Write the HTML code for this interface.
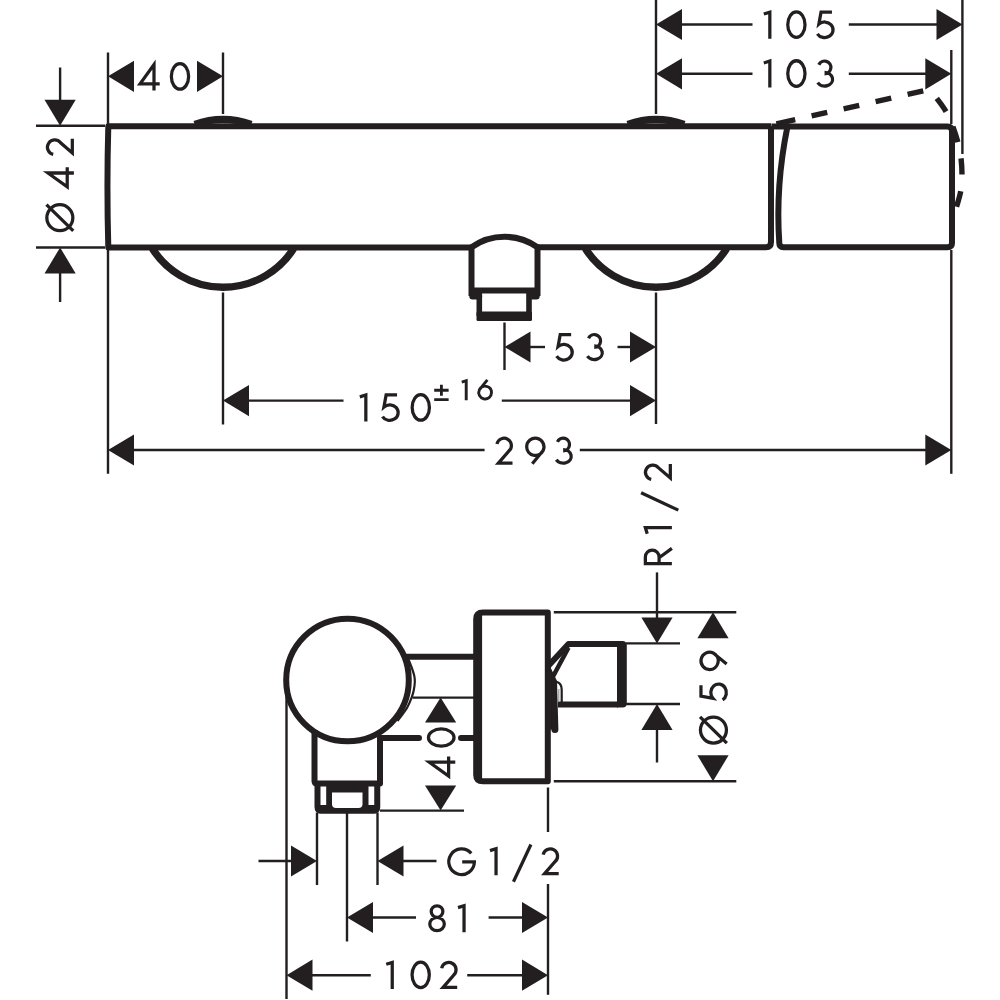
<!DOCTYPE html>
<html><head><meta charset="utf-8"><title>drawing</title>
<style>
html,body{margin:0;padding:0;background:#fff;font-family:"Liberation Sans",sans-serif;}
svg{display:block}
.t path{fill:none;stroke:#231f20;stroke-linecap:butt;stroke-linejoin:miter;stroke-miterlimit:6}
.n{fill:none;stroke:#231f20;stroke-width:2.4}
.k{fill:none;stroke:#231f20;stroke-width:6;stroke-linejoin:round}
.a{fill:#231f20;stroke:none}
</style></head><body>
<svg width="1000" height="1000" viewBox="0 0 1000 1000">
<rect width="1000" height="1000" fill="#fff"/>
<g class="t">
<path transform="translate(138.4,62.4) scale(1.04)" d="M15,27 L15,2 L1.6,20.6 L20.5,20.6" stroke-width="3.13"/>
<path transform="translate(169.8,62.4) scale(1.04)" d="M9.8,1.2 A8.3,12.3 0 1 1 9.8,25.8 A8.3,12.3 0 1 1 9.8,1.2 Z" stroke-width="3.13"/>
<path transform="translate(763.6,10.6) scale(1.04)" d="M0.2,3.3 L6,1.5 L6,27" stroke-width="3.13"/>
<path transform="translate(786.2,10.6) scale(1.04)" d="M9.8,1.2 A8.3,12.3 0 1 1 9.8,25.8 A8.3,12.3 0 1 1 9.8,1.2 Z" stroke-width="3.13"/>
<path transform="translate(815,10.6) scale(1.04)" d="M16.3,1.5 L5.8,1.5 L3.7,13 A8.1,7.5 0 1 1 2.3,22.3" stroke-width="3.13"/>
<path transform="translate(763.6,59.5) scale(1.04)" d="M0.2,3.3 L6,1.5 L6,27" stroke-width="3.13"/>
<path transform="translate(786.2,59.5) scale(1.04)" d="M9.8,1.2 A8.3,12.3 0 1 1 9.8,25.8 A8.3,12.3 0 1 1 9.8,1.2 Z" stroke-width="3.13"/>
<path transform="translate(815.6,59.5) scale(1.04)" d="M3.07,5.02 A6.1,6.1 0 1 1 8.6,13.7 M8.6,12.5 A7.7,6.5 0 1 1 1.97,22.25" stroke-width="3.13"/>
<path transform="translate(554.2,333) scale(1.04)" d="M16.3,1.5 L5.8,1.5 L3.7,13 A8.1,7.5 0 1 1 2.3,22.3" stroke-width="3.13"/>
<path transform="translate(585.3,333) scale(1.04)" d="M3.07,5.02 A6.1,6.1 0 1 1 8.6,13.7 M8.6,12.5 A7.7,6.5 0 1 1 1.97,22.25" stroke-width="3.13"/>
<path transform="translate(359.6,393.4) scale(1.04)" d="M0.2,3.3 L6,1.5 L6,27" stroke-width="3.13"/>
<path transform="translate(380.1,393.4) scale(1.04)" d="M16.3,1.5 L5.8,1.5 L3.7,13 A8.1,7.5 0 1 1 2.3,22.3" stroke-width="3.13"/>
<path transform="translate(410.6,393.4) scale(1.04)" d="M9.8,1.2 A8.3,12.3 0 1 1 9.8,25.8 A8.3,12.3 0 1 1 9.8,1.2 Z" stroke-width="3.13"/>
<path transform="translate(434.2,383.6) scale(0.78)" d="M0,8.5 L18.5,8.5 M9.25,1.5 L9.25,15.5 M0,20.5 L18.5,20.5" stroke-width="3.6"/>
<path transform="translate(461.6,379.5) scale(0.77)" d="M0.2,3.3 L6,1.5 L6,27" stroke-width="3.78"/>
<path transform="translate(477.2,379.3) scale(0.77)" d="M13.2,0.8 L2.78,13.69 A8.3,8.3 0 1 0 18.6,17.2 A8.3,8.3 0 0 0 2.78,13.69" stroke-width="3.75"/>
<path transform="translate(494.1,436.6) scale(1.04)" d="M2.75,7.14 A7,7 0 1 1 14.1,13.96 L4.1,25.5 L17.7,25.5" stroke-width="3.13"/>
<path transform="translate(524.6,436.6) scale(1.04)" d="M7.4,26.2 L17.82,13.31 A8.3,8.3 0 1 0 2,9.8 A8.3,8.3 0 0 0 17.82,13.31" stroke-width="3.13"/>
<path transform="translate(554.2,436.6) scale(1.04)" d="M3.07,5.02 A6.1,6.1 0 1 1 8.6,13.7 M8.6,12.5 A7.7,6.5 0 1 1 1.97,22.25" stroke-width="3.13"/>
<path transform="translate(446.6,847.2) scale(1.04)" d="M23.69,5.93 A12.3,12.3 0 1 0 26.7,14.2 L15,14.2" stroke-width="3.13"/>
<path transform="translate(489.8,847.2) scale(1.04)" d="M0.2,3.3 L6,1.5 L6,27" stroke-width="3.13"/>
<path transform="translate(512,847.2) scale(1.04)" d="M18.2,-2.6 L1.4,33.2" stroke-width="3.13"/>
<path transform="translate(540.3,847.2) scale(1.04)" d="M2.75,7.14 A7,7 0 1 1 14.1,13.96 L4.1,25.5 L17.7,25.5" stroke-width="3.13"/>
<path transform="translate(428.2,904.2) scale(1.04)" d="M8.5,1.5 A5.6,5.6 0 1 1 8.5,12.7 A5.6,5.6 0 1 1 8.5,1.5 Z M8.5,12.7 A7,6.4 0 1 1 8.5,25.5 A7,6.4 0 1 1 8.5,12.7 Z" stroke-width="3.13"/>
<path transform="translate(457.8,904.2) scale(1.04)" d="M0.2,3.3 L6,1.5 L6,27" stroke-width="3.13"/>
<path transform="translate(386,960.8) scale(1.04)" d="M0.2,3.3 L6,1.5 L6,27" stroke-width="3.13"/>
<path transform="translate(410.5,960.8) scale(1.04)" d="M9.8,1.2 A8.3,12.3 0 1 1 9.8,25.8 A8.3,12.3 0 1 1 9.8,1.2 Z" stroke-width="3.13"/>
<path transform="translate(438.8,960.8) scale(1.04)" d="M2.75,7.14 A7,7 0 1 1 14.1,13.96 L4.1,25.5 L17.7,25.5" stroke-width="3.13"/>
<path transform="translate(45.8,232.3) rotate(-90) scale(1.04)" d="M14,1 A12.5,12.5 0 1 1 14,26 A12.5,12.5 0 1 1 14,1 Z M26.6,0.6 L1.4,26.4" stroke-width="3.13"/>
<path transform="translate(45.8,188.6) rotate(-90) scale(1.04)" d="M15,27 L15,2 L1.6,20.6 L20.5,20.6" stroke-width="3.13"/>
<path transform="translate(45.8,157.2) rotate(-90) scale(1.04)" d="M2.75,7.14 A7,7 0 1 1 14.1,13.96 L4.1,25.5 L17.7,25.5" stroke-width="3.13"/>
<path transform="translate(427.2,777.8) rotate(-90) scale(1.04)" d="M15,27 L15,2 L1.6,20.6 L20.5,20.6" stroke-width="3.13"/>
<path transform="translate(427.2,747.8) rotate(-90) scale(1.04)" d="M9.8,1.2 A8.3,12.3 0 1 1 9.8,25.8 A8.3,12.3 0 1 1 9.8,1.2 Z" stroke-width="3.13"/>
<path transform="translate(699.4,744.6) rotate(-90) scale(1.04)" d="M14,1 A12.5,12.5 0 1 1 14,26 A12.5,12.5 0 1 1 14,1 Z M26.6,0.6 L1.4,26.4" stroke-width="3.13"/>
<path transform="translate(699.4,702.2) rotate(-90) scale(1.04)" d="M16.3,1.5 L5.8,1.5 L3.7,13 A8.1,7.5 0 1 1 2.3,22.3" stroke-width="3.13"/>
<path transform="translate(699.4,671.6) rotate(-90) scale(1.04)" d="M7.4,26.2 L17.82,13.31 A8.3,8.3 0 1 0 2,9.8 A8.3,8.3 0 0 0 17.82,13.31" stroke-width="3.13"/>
<path transform="translate(643.8,565.2) rotate(-90) scale(1.04)" d="M1.5,27 L1.5,1.5 L8,1.5 A6.6,6.6 0 0 1 8,14.7 L1.5,14.7 M7.2,14.7 L16.2,27" stroke-width="3.13"/>
<path transform="translate(643.8,533.9) rotate(-90) scale(1.04)" d="M0.2,3.3 L6,1.5 L6,27" stroke-width="3.13"/>
<path transform="translate(643.8,511.6) rotate(-90) scale(1.04)" d="M18.2,-2.6 L1.4,33.2" stroke-width="3.13"/>
<path transform="translate(643.8,482.3) rotate(-90) scale(1.04)" d="M2.75,7.14 A7,7 0 1 1 14.1,13.96 L4.1,25.5 L17.7,25.5" stroke-width="3.13"/>
</g>
<path class="n" d="M108,52.5 L108,473.8"/>
<path class="n" d="M223,52.5 L223,114"/>
<path class="n" d="M223,292.5 L223,424.5"/>
<path class="n" d="M36,125.8 L105,125.8"/>
<path class="n" d="M36,247.5 L105,247.5"/>
<path class="n" d="M60.1,67.5 L60.1,101"/>
<polygon class="a" points="60.1,125.8 44.5,99.8 75.7,99.8"/>
<path class="n" d="M60.1,272 L60.1,302"/>
<polygon class="a" points="60.1,247.5 44.5,273.5 75.7,273.5"/>
<polygon class="a" points="108,76.3 134,60.7 134,91.9"/>
<polygon class="a" points="223,76.3 197,60.7 197,91.9"/>
<path class="n" d="M656,0 L656,114"/>
<path class="n" d="M656,292.5 L656,424"/>
<path class="n" d="M962.4,0 L962.4,154"/>
<path class="n" d="M951.3,50 L951.3,124"/>
<path class="n" d="M951.3,250 L951.3,473.8"/>
<polygon class="a" points="656,24.5 682,8.9 682,40.1"/>
<polygon class="a" points="962.5,24.5 936.5,8.9 936.5,40.1"/>
<path class="n" d="M681,24.5 L752.5,24.5"/>
<path class="n" d="M848.8,24.5 L937,24.5"/>
<polygon class="a" points="656,73.8 682,58.2 682,89.4"/>
<polygon class="a" points="951.3,73.8 925.3,58.2 925.3,89.4"/>
<path class="n" d="M681,73.8 L752.5,73.8"/>
<path class="n" d="M848.8,73.8 L926,73.8"/>
<path class="n" d="M504.5,322.5 L504.5,370"/>
<polygon class="a" points="504.5,347 530.5,331.4 530.5,362.6"/>
<polygon class="a" points="656,347 630,331.4 630,362.6"/>
<path class="n" d="M530,347 L545,347"/>
<path class="n" d="M617.5,347 L631,347"/>
<polygon class="a" points="223,400.6 249,385 249,416.2"/>
<polygon class="a" points="656,400.6 630,385 630,416.2"/>
<path class="n" d="M248,400.6 L343.5,400.6"/>
<path class="n" d="M501.8,400.6 L631,400.6"/>
<polygon class="a" points="108,450 134,434.4 134,465.6"/>
<polygon class="a" points="951.3,450 925.3,434.4 925.3,465.6"/>
<path class="n" d="M133,450 L484.6,450"/>
<path class="n" d="M579.8,450 L926,450"/>
<path class="n" d="M286.5,695 L286.5,999"/>
<path class="n" d="M317,812.5 L317,885"/>
<path class="n" d="M347,812.5 L347,941.5"/>
<path class="n" d="M377.5,812.5 L377.5,885"/>
<path class="n" d="M548,787.5 L548,832"/>
<path class="n" d="M548,884 L548,994.8"/>
<path class="n" d="M380,810.6 L464,810.6"/>
<path class="n" d="M412.5,697.6 L475,697.6"/>
<polygon class="a" points="440.6,697.6 425,722.6 456.2,722.6"/>
<polygon class="a" points="440.6,810.6 425,785.6 456.2,785.6"/>
<path class="n" d="M258.5,861 L292,861"/>
<polygon class="a" points="317,861 291,845.4 291,876.6"/>
<polygon class="a" points="377.5,861 403.5,845.4 403.5,876.6"/>
<path class="n" d="M403,861 L436.5,861"/>
<polygon class="a" points="347,917.5 373,901.9 373,933.1"/>
<polygon class="a" points="548,917.5 522,901.9 522,933.1"/>
<path class="n" d="M372,917.5 L416,917.5"/>
<path class="n" d="M488.6,917.5 L523,917.5"/>
<polygon class="a" points="286.5,975.2 312.5,959.6 312.5,990.8"/>
<polygon class="a" points="548,975.2 522,959.6 522,990.8"/>
<path class="n" d="M312,975.2 L370.8,975.2"/>
<path class="n" d="M467.2,975.2 L523,975.2"/>
<path class="n" d="M553.8,612.2 L736.3,612.2"/>
<path class="n" d="M553.8,781.3 L736.3,781.3"/>
<polygon class="a" points="713,612.2 697.4,638.2 728.6,638.2"/>
<polygon class="a" points="713,781.3 697.4,755.3 728.6,755.3"/>
<path class="n" d="M626,643.4 L680,643.4"/>
<path class="n" d="M626,704 L680,704"/>
<path class="n" d="M657,572.4 L657,618"/>
<polygon class="a" points="657,643.4 641.4,617.4 672.6,617.4"/>
<polygon class="a" points="657,704 641.4,730 672.6,730"/>
<path class="n" d="M657,729 L657,762.5"/>
<path class="k" d="M771,126.2 L108.3,126.2 Q106.6,186 108.3,247.4 L471.5,247.4" />
<path class="k" d="M537.5,247.3 L766,247.3 Q771,247.3 771,242 L771,126" />
<path class="k" d="M771.4,126.4 L947.5,126.4 Q952,126.4 952,131 L952,243 Q952,247.3 947.5,247.3 L783.5,247.3 Q779.3,247.3 779.3,243 Q775.4,185 787.5,126.4" />
<path class="k" d="M293.68,248.6 A83.9,83.9 0 0 1 152.32,248.6" style="stroke-width:7.4"/>
<path class="k" d="M194.75,124.4 A83.9,83.9 0 0 1 251.25,124.4" style="stroke-width:7.4"/>
<path class="k" d="M726.68,248.6 A83.9,83.9 0 0 1 585.32,248.6" style="stroke-width:7.4"/>
<path class="k" d="M627.75,124.4 A83.9,83.9 0 0 1 684.25,124.4" style="stroke-width:7.4"/>
<path class="k" d="M471.5,296 L471.5,247.3 A57,57 0 0 1 537.5,247.3 L537.5,296" />
<path class="k" d="M471.5,290.5 L537.5,290.5" />
<path class="k" d="M472.5,296.3 L479,296.3 M530,296.3 L536.5,296.3" style="stroke-width:6.4;stroke-linecap:round"/>
<path class="k" d="M479.3,293 L479.3,316 M529,293 L529,316" style="stroke-width:5.6"/>
<rect class="a" x="476.5" y="311.5" width="55.5" height="9.5" rx="1.5"/>
<path class="k" d="M776.4,123.9 L924,90.75  C925.08,90.88 928.32,90.16 930.5,91.5 C932.68,92.84 934.58,95.58 937.1,98.8 C939.62,102.02 943.12,106.53 945.6,110.8 C948.08,115.07 950,119.33 952,124.4 C954,129.47 956.13,135.87 957.6,141.2 C959.07,146.53 960.07,150.8 960.8,156.4 C961.53,162 962,169.07 962,174.8 C962,180.53 961.75,185.33 960.8,190.8 C959.85,196.27 957.05,204.8 956.3,207.6" style="stroke-width:5.4;stroke-dasharray:19.3 16.8 16 16.8 16 16.8 16 16.8 16 16.8 16 16.8 16 16.8 16 16.8 16 16.8 16 16.8;stroke-linecap:butt;stroke-linejoin:round"/>
<circle class="k" cx="347.5" cy="680" r="61.3"/>
<path class="n" d="M407.6,657.5 C408.25,659.08 410.38,663.92 411.5,667 C412.62,670.08 413.75,673.5 414.3,676 C414.85,678.5 414.88,679.67 414.8,682 C414.72,684.33 414.3,687.47 413.8,690 C413.3,692.53 412.85,694.37 411.8,697.2 C410.75,700.03 409.3,703.8 407.5,707 C405.7,710.2 402.67,714.07 401,716.4 C399.33,718.73 398.08,720.23 397.5,721" style="stroke-width:2.2"/>
<path class="k" d="M405,656.7 L475,656.7" />
<path class="k" d="M380,738 L419,738" style="stroke-linecap:round"/>
<path class="k" d="M461,738 L475,738" style="stroke-linecap:round"/>
<path class="k" d="M547.8,612.4 L483,612.4 Q476.2,612.4 476.2,619 L476.2,775 Q476.2,781.3 483,781.3 L547.8,781.3 Z" />
<path class="k" d="M479.6,614.5 L479.6,779" style="stroke-width:5;stroke-linecap:butt"/>
<path class="k" d="M314.5,730 L314.5,781 Q314.5,783.5 317,783.5 L380,783.5 L380,738" />
<path class="k" d="M317.5,783.5 L317.5,807 Q317.5,810.5 321,810.5 L374,810.5 Q377.25,810.5 377.25,807 L377.25,783.5" />
<rect class="a" x="317" y="805" width="60.7" height="8.5" rx="2"/>
<rect class="a" x="326.2" y="786" width="42.3" height="24"/>
<path d="M332,792.5 L362.5,792.5 L362.5,804 Q362.5,808 358.5,808 L336,808 Q332,808 332,804 Z" fill="#fff"/>
<path class="k" d="M548.4,665.8 L568.5,644 L618,644 M618,704.5 L558,704.5" />
<path class="a" d="M617,641 L622.5,641 Q626.8,641 626.8,645.5 L626.8,703 Q626.8,707.5 622.5,707.5 L617,707.5 Z"/>
<path class="k" d="M568.5,647.6 L552,678.4" style="stroke-width:4.4"/>
<path class="a" d="M548,662 L557,681 L558.4,729.5 Q558.4,733 555,733 Q551.5,733 551.3,729.5 L548,729 Z"/>
<path class="n" d="M556,681.6 Q561.7,683 561.7,689.5 L561.7,702" style="stroke-width:2.2"/>
<path class="n" d="M558.8,689 L558.8,702" style="stroke-width:1.2;stroke:#999"/>
</svg>
</body></html>
